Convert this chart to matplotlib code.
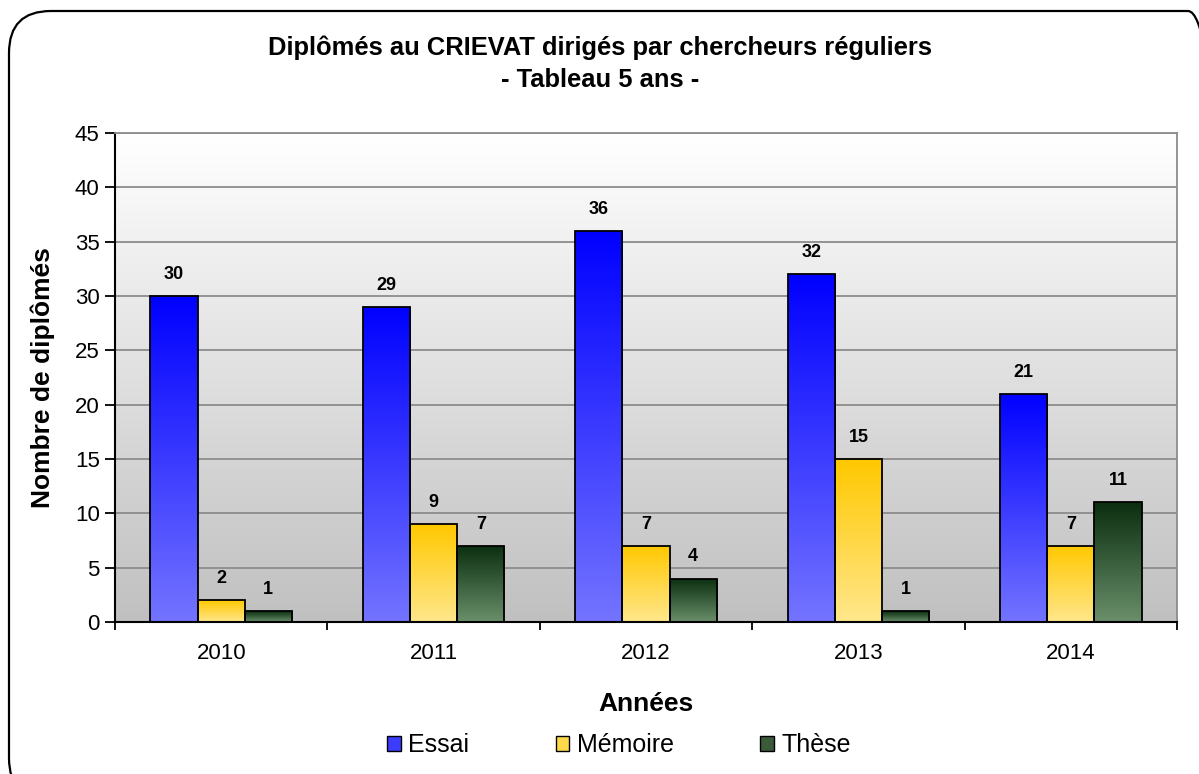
import numpy as np
import matplotlib
matplotlib.use("Agg")
import matplotlib.pyplot as plt
from matplotlib.patches import FancyBboxPatch
from matplotlib.colors import LinearSegmentedColormap

plt.rcParams['font.family'] = ['Liberation Sans', 'DejaVu Sans']

years = ['2010', '2011', '2012', '2013', '2014']
essai = [30, 29, 36, 32, 21]
memoire = [2, 9, 7, 15, 7]
these = [1, 7, 4, 1, 11]
series_names = ['Essai', 'Mémoire', 'Thèse']

W, H = 1199, 774
fig = plt.figure(figsize=(W / 100, H / 100), dpi=100)

# rounded border
border = FancyBboxPatch((9 / W, (H - 800) / H), (1230 - 9) / W, (800 - 11) / H,
                        boxstyle="round,pad=0,rounding_size=0.035",
                        transform=fig.transFigure, fill=False, edgecolor='black',
                        linewidth=1.6, mutation_aspect=W / H)
fig.patches.append(border)

ax = fig.add_axes([115 / W, (H - 622) / H, (1177 - 115) / W, (622 - 133) / H])

# background gradient
bg = np.linspace(0, 1, 256).reshape(-1, 1)
bgcmap = LinearSegmentedColormap.from_list('bg', ['#c0c0c0', '#ffffff'])
ax.imshow(bg, cmap=bgcmap, aspect='auto', extent=[0, 1, 0, 1], origin='lower',
          transform=ax.transAxes, zorder=0)

ax.set_xlim(-0.5, 4.5)
ax.set_ylim(0, 45)
ax.set_yticks(np.arange(0, 46, 5))
ax.yaxis.grid(True, color='#8c8c8c', linewidth=1.3, zorder=1)
ax.set_axisbelow(True)

x = np.arange(len(years))
w = 0.222
grads = [
    ['#7474ff', '#0000ff'],
    ['#ffe78c', '#ffc800'],
    ['#6a8f6a', '#0a2e0f'],
]
legend_colors = ['#3c3cff', '#ffd84a', '#3a5a3a']
for i, (vals, g) in enumerate(zip([essai, memoire, these], grads)):
    bars = ax.bar(x + (i - 1) * w, vals, w, color='none', edgecolor='black',
                  linewidth=1.3, zorder=3)
    cmap = LinearSegmentedColormap.from_list(f'g{i}', g)
    for b, v in zip(bars, vals):
        x0 = b.get_x()
        im = ax.imshow(bg, cmap=cmap, aspect='auto', origin='lower',
                       extent=[x0, x0 + b.get_width(), 0, v], zorder=2)
        im.set_clip_path(b)
        ax.text(x0 + b.get_width() / 2, v + 2.0, str(v), ha='center', va='center',
                fontsize=13, fontweight='bold')
    ax.bar([0], [0], color=legend_colors[i], edgecolor='black', label=series_names[i])

ax.set_xlim(-0.5, 4.5)
ax.set_ylim(0, 45)
ax.set_xticks(x)
ax.set_xticklabels(years, fontsize=16)
ax.set_xticks(np.arange(-0.5, 5, 1), minor=True)
ax.tick_params(axis='x', which='major', length=0, pad=15)
ax.tick_params(axis='x', which='minor', length=6, width=1.3, direction='out')
ax.tick_params(axis='y', labelsize=16, length=7, width=1.3, direction='out', pad=4)

for s in ['left', 'bottom']:
    ax.spines[s].set_color('black')
    ax.spines[s].set_linewidth(1.5)
for s in ['top', 'right']:
    ax.spines[s].set_color('#8c8c8c')
    ax.spines[s].set_linewidth(1.3)

ax.set_ylabel('Nombre de diplômés', fontsize=19, fontweight='bold', labelpad=14)
ax.set_xlabel('Années', fontsize=19, fontweight='bold', labelpad=20)

fig.text(600 / W, 1 - 48 / H, 'Diplômés au CRIEVAT dirigés par chercheurs réguliers',
         ha='center', va='center', fontsize=18.4, fontweight='bold')
fig.text(600 / W, 1 - 80 / H, '- Tableau 5 ans -', ha='center', va='center',
         fontsize=18.4, fontweight='bold')

leg = fig.legend(loc='center', bbox_to_anchor=(619 / W, 1 - 745 / H), ncol=3,
                 frameon=False, fontsize=18, handlelength=0.55, handleheight=0.55,
                 handletextpad=0.3, columnspacing=3.45)

fig.savefig('out.png', dpi=100)
